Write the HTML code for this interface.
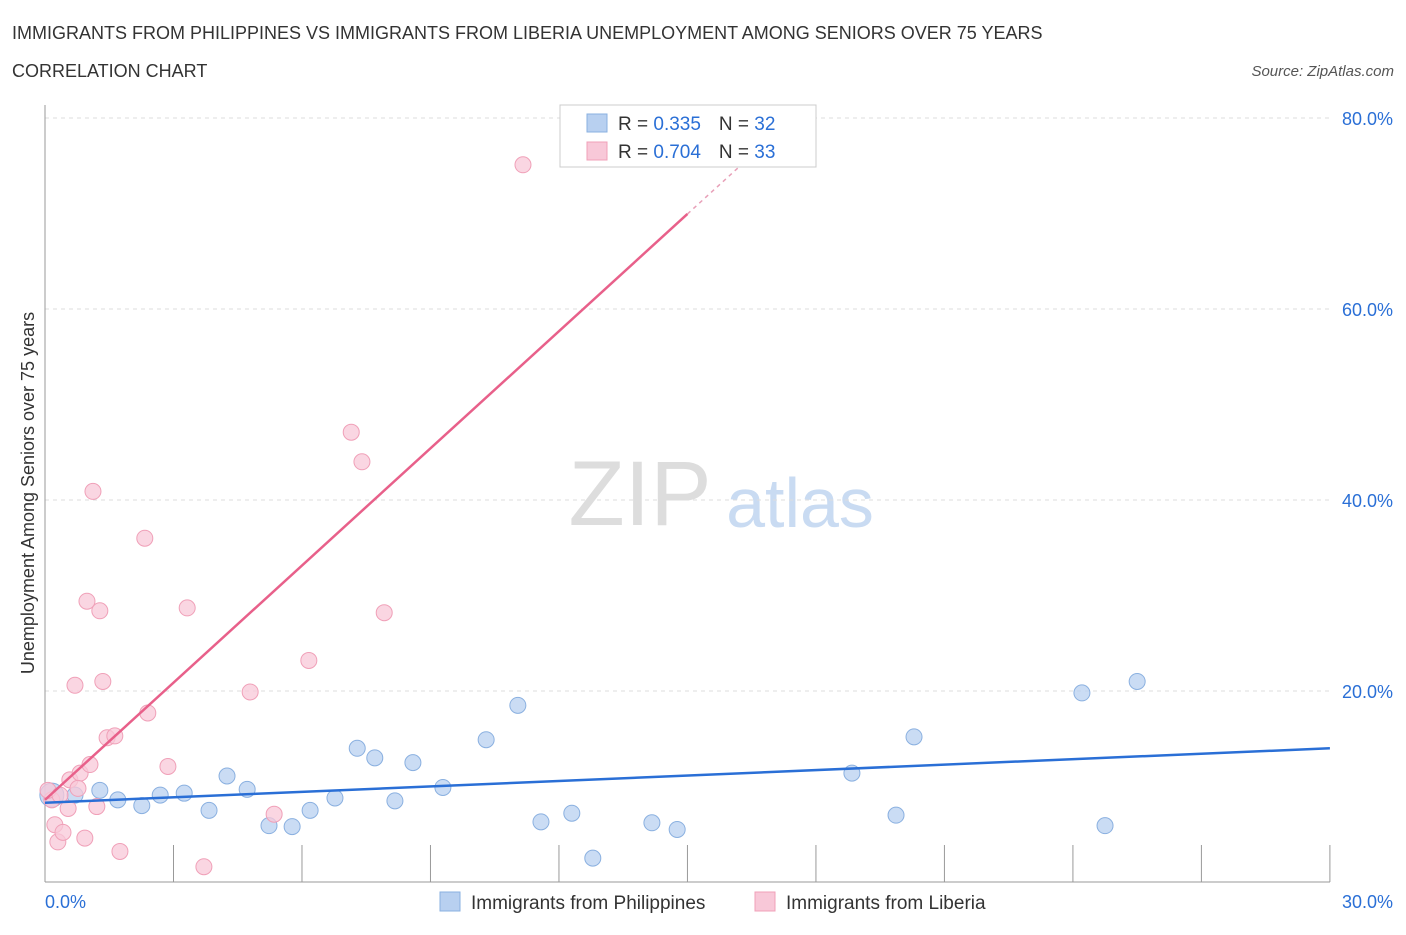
<!DOCTYPE html>
<html><head><meta charset="utf-8"><style>
body{margin:0;background:#fff;font-family:"Liberation Sans",sans-serif;}
svg text{font-family:"Liberation Sans",sans-serif;}
</style></head><body>
<svg id="c" width="1406" height="930" xmlns="http://www.w3.org/2000/svg">
<text x="12" y="39" font-size="18" fill="#333">IMMIGRANTS FROM PHILIPPINES VS IMMIGRANTS FROM LIBERIA UNEMPLOYMENT AMONG SENIORS OVER 75 YEARS</text>
<text x="12" y="77" font-size="18" fill="#333">CORRELATION CHART</text>
<text x="1394" y="76" font-size="15" fill="#555" font-style="italic" text-anchor="end">Source: ZipAtlas.com</text>
<text x="640" y="525" font-size="92" fill="#ddd" font-family="Liberation Serif" text-anchor="middle">ZIP</text>
<text x="800" y="527" font-size="70" fill="#c9dbf2" text-anchor="middle">atlas</text>
<text transform="translate(34,493) rotate(-90)" font-size="18" fill="#333" text-anchor="middle">Unemployment Among Seniors over 75 years</text>
<g id="grid"></g><g id="marks"></g>
<g>
<rect x="560" y="105" width="256" height="62" fill="#fff" stroke="#ccc"/>
<rect x="587" y="114" width="20" height="18" fill="#b8d0f0" stroke="#8ab0e0"/>
<rect x="587" y="142" width="20" height="18" fill="#f8c8d8" stroke="#f0a0b8"/>
<text x="618" y="130" font-size="19" fill="#333">R = <tspan fill="#2a6fd6">0.335</tspan><tspan dx="18">N = </tspan><tspan fill="#2a6fd6">32</tspan></text>
<text x="618" y="158" font-size="19" fill="#333">R = <tspan fill="#2a6fd6">0.704</tspan><tspan dx="18">N = </tspan><tspan fill="#2a6fd6">33</tspan></text>
</g>
<g>
<rect x="440" y="892" width="20" height="19" fill="#b8d0f0" stroke="#8ab0e0"/>
<text x="471" y="909" font-size="19" fill="#333">Immigrants from Philippines</text>
<rect x="755" y="892" width="20" height="19" fill="#f8c8d8" stroke="#f0a0b8"/>
<text x="786" y="909" font-size="19" fill="#333">Immigrants from Liberia</text>
</g>
</svg>
<script>
const yTicks=[20,40,60,80];
const xTickLabels=["0.0%","30.0%"];
const blueX=[0.16,0.70,1.28,1.70,2.26,2.69,3.25,3.83,4.25,4.72,5.23,5.77,6.19,6.77,7.29,7.70,8.17,8.59,9.29,10.30,11.04,11.58,12.30,12.79,14.17,14.76,18.84,19.87,20.29,24.21,24.75,25.50];
const blueY=[9.1,9.1,9.6,8.6,8.0,9.1,9.3,7.5,11.1,9.7,5.9,5.8,7.5,8.8,14.0,13.0,8.5,12.5,9.9,14.9,18.5,6.3,7.2,2.5,6.2,5.5,11.4,7.0,15.2,19.8,5.9,21.0];
const pinkX=[0.16,0.23,0.30,0.42,0.54,0.58,0.70,0.82,0.77,0.93,0.98,1.05,1.12,1.21,1.28,1.35,1.45,1.63,1.75,2.33,2.40,2.87,3.32,3.71,4.79,5.35,6.16,7.15,7.40,7.92,11.16,0.07,0.35];
const pinkY=[8.6,6.0,4.2,5.2,7.7,10.7,20.6,11.4,9.8,4.6,29.4,12.3,40.9,7.9,28.4,21.0,15.1,15.3,3.2,36.0,17.7,12.1,28.7,1.6,19.9,7.1,23.2,47.1,44.0,28.2,75.1,9.6,9.1];
const blueLine=[8.3,14.0];
const pinkLine=[8.6,4.09];
const X=v=>45+v*42.83, Y=v=>882-v*9.55;
const NS="http://www.w3.org/2000/svg";
function mk(t,a,p){const e=document.createElementNS(NS,t);for(const k in a)e.setAttribute(k,a[k]);p.appendChild(e);return e;}
const g=document.getElementById('grid'),m=document.getElementById('marks');
yTicks.forEach(t=>{
 const l=mk('line',{x1:45,x2:1330,y1:Y(t),y2:Y(t),stroke:'#ddd','stroke-dasharray':'4,4'},g);
 
 
 const tx=mk('text',{x:1393,y:Y(t)+7,'font-size':18,fill:'#2a6fd6','text-anchor':'end'},g);
 tx.textContent=t.toFixed(1)+'%';
 
 
});
const ax=mk('line',{x1:45,x2:45,y1:105,y2:882,stroke:'#999'},g);


const bx=mk('line',{x1:45,x2:1330,y1:882,y2:882,stroke:'#999'},g);


for(let i=0;i<=10;i++){
 const t=mk('line',{x1:X(i*3),x2:X(i*3),y1:845,y2:882,stroke:'#999'},g);
 
 
}
[[0,'start',45],[30,'end',1393]].forEach((d,i)=>{
 const t=mk('text',{x:d[2],y:908,'font-size':18,fill:'#2a6fd6','text-anchor':d[1]},g);
 t.textContent=xTickLabels[i];
 
 
});
blueX.forEach((x,i)=>{
 const c=mk('circle',{cx:X(x),cy:Y(blueY[i]),r:i==0?12:8,fill:'#b8d0f0','fill-opacity':0.75,stroke:'#8ab0e0'},m);
 
 
});
pinkX.forEach((x,i)=>{
 const c=mk('circle',{cx:X(x),cy:Y(pinkY[i]),r:8,fill:'#f8c8d8','fill-opacity':0.75,stroke:'#f0a0b8'},m);
 
 
});
const bl=mk('line',{x1:X(0),y1:Y(blueLine[0]),x2:X(30),y2:Y(blueLine[1]),stroke:'#2a6fd6','stroke-width':2.5},m);


const pe=15;
const pl=mk('line',{x1:X(0),y1:Y(pinkLine[0]),x2:X(pe),y2:Y(pinkLine[0]+pinkLine[1]*pe),stroke:'#e8608a','stroke-width':2.5},m);


const pd=mk('line',{x1:X(pe),y1:Y(pinkLine[0]+pinkLine[1]*pe),x2:X(16.4),y2:Y(pinkLine[0]+pinkLine[1]*16.4),stroke:'#e8a0b8','stroke-width':1.5,'stroke-dasharray':'4,4'},m);


</script>
</body></html>
